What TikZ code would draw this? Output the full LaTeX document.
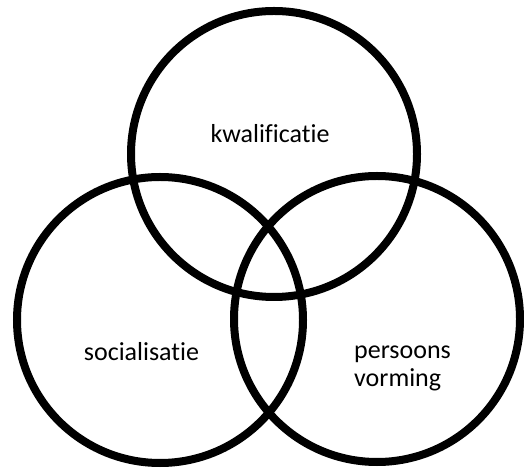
\documentclass[tikz,border=0pt]{standalone}
\usepackage{fontspec}
\setmainfont[Ligatures={NoCommon,NoContextual}]{Carlito}
\tikzset{
	ring/.style={circle, draw, line width=8pt, minimum size=286pt, inner sep=0pt},
	lbl/.style={font=\fontsize{26}{28.5}\selectfont, inner sep=0pt, align=left}
}
\begin{document}
\begin{tikzpicture}[x=1pt, y=1pt]
	\useasboundingbox (0,0) rectangle (524,468);

	\node [ring] (kwal) at (274,314) {};
	\node [ring] (soc) at (160,148) {};
	\node [ring] (pers) at (377,149) {};

	\node [lbl, anchor=base] (kwaltxt) at (270,325) {kwalificatie};
	\node [lbl, anchor=base] (soctxt) at (141.5,107) {socialisatie};
	\node [lbl, anchor=base west] (perstxt) at (354,81) {persoons\\vorming};
\end{tikzpicture}
\end{document}
